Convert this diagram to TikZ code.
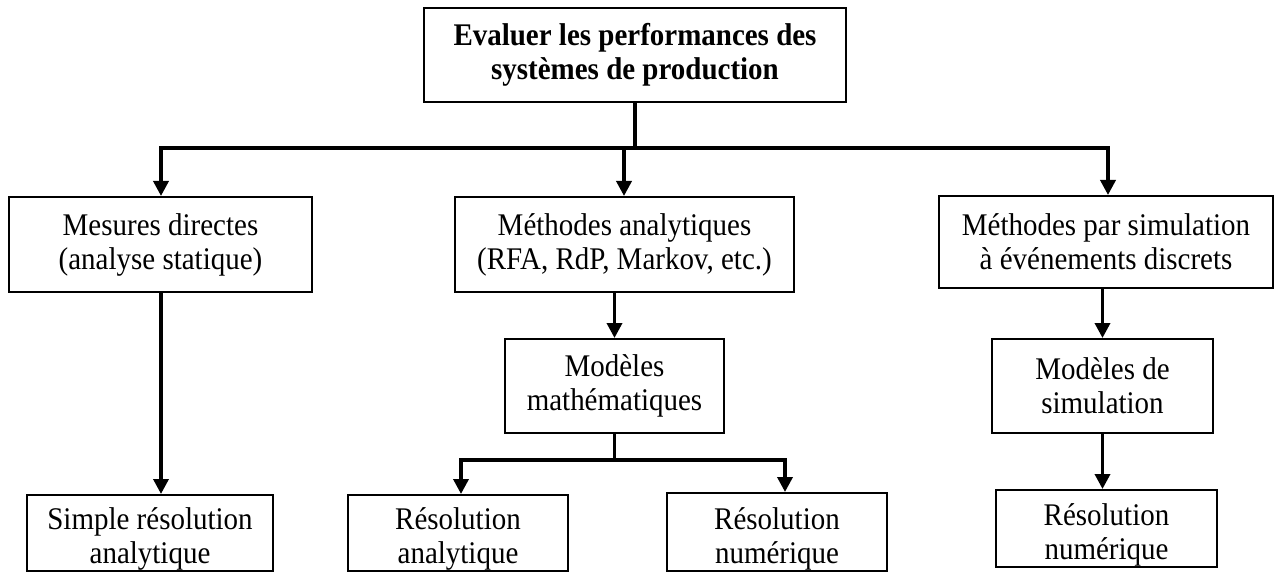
\documentclass[tikz,border=0pt]{standalone}
\usepackage{fontspec}
\setmainfont[FakeStretch=0.92]{Liberation Serif}
\usetikzlibrary{arrows.meta}
\newcommand{\diagfont}{\fontsize{31.5}{34}\selectfont}
\newcommand{\lowtext}[3]{\parbox[c][#1][b]{#2}{\centering #3\par\vspace{1pt}}}
\begin{document}
\begin{tikzpicture}[x=1pt,y=-1pt,
  box/.style={draw, line width=2pt, inner sep=0pt, align=center, font=\diagfont},
  conn/.style={line width=3.5pt, line join=miter},
  arr/.style={conn, -{Triangle[width=15pt,length=15pt]}}]
\useasboundingbox (0,0) rectangle (1277,572);
% boxes
\node[box, minimum width=422pt, minimum height=94pt, font=\diagfont\bfseries] (top) at (635,55) {Evaluer les performances des\\systèmes de production};
\node[box, minimum width=303pt, minimum height=95pt] (mes) at (160.5,244.5) {Mesures directes\\(analyse statique)};
\node[box, minimum width=339pt, minimum height=95pt] (meth) at (624.5,244.5) {Méthodes analytiques\\(RFA, RdP, Markov, etc.)};
\node[box, minimum width=334pt, minimum height=92pt] (sim) at (1106,242) {Méthodes par simulation\\à événements discrets};
\node[box, minimum width=219pt, minimum height=94pt] (modm) at (614.5,386) {Modèles\\mathématiques};
\node[box, minimum width=221pt, minimum height=94pt] (mods) at (1102.5,386) {Modèles de\\simulation};
\node[box, minimum width=246pt, minimum height=76pt] (simple) at (150,533) {\lowtext{76pt}{246pt}{Simple résolution\\analytique}};
\node[box, minimum width=220pt, minimum height=76pt] (resa) at (458,533) {\lowtext{76pt}{220pt}{Résolution\\analytique}};
\node[box, minimum width=220pt, minimum height=78pt] (resn1) at (777,532) {\lowtext{78pt}{220pt}{Résolution\\numérique}};
\node[box, minimum width=221pt, minimum height=77pt] (resn2) at (1106.5,528.5) {\lowtext{77pt}{221pt}{Résolution\\numérique}};
% junction coordinates
\coordinate (h1) at (161,148);
\coordinate (h2) at (624,148);
\coordinate (h3) at (1108,148);
\coordinate (b1) at (461,460);
\coordinate (b2) at (785,460);
% connectors
\draw[arr] (top.south) |- (h1) -- (mes.north -| h1);
\draw[arr] (top.south) |- (h3) -- (sim.north -| h3);
\draw[arr] (h2) -- (meth.north -| h2);
\draw[arr] (mes.south -| h1) -- (simple.north -| h1);
\draw[arr] (meth.south -| modm.north) -- (modm.north);
\draw[arr] (modm.south) |- (b1) -- (resa.north -| b1);
\draw[arr] (modm.south) |- (b2) -- (resn1.north -| b2);
\draw[arr] (sim.south -| mods.north) -- (mods.north);
\draw[arr] (mods.south) -- (resn2.north -| mods.south);
\end{tikzpicture}
\end{document}
